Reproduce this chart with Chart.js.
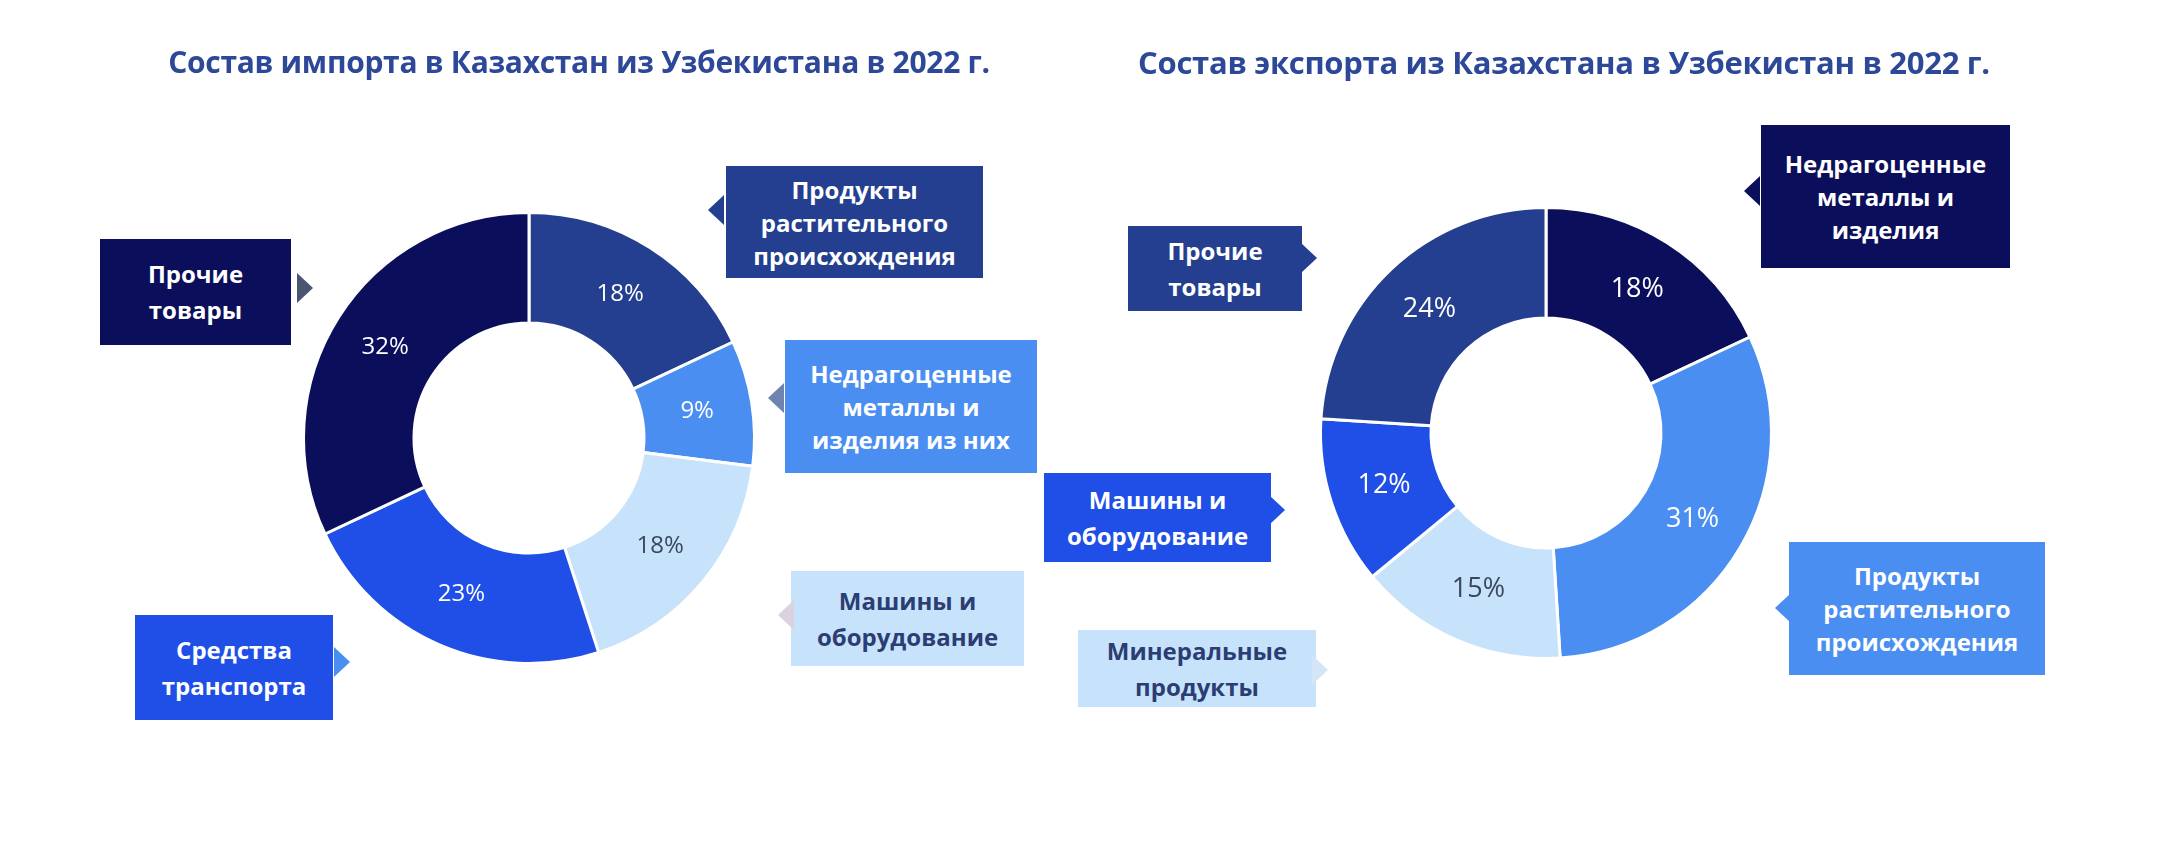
<!DOCTYPE html>
<html lang="ru">
<head>
<meta charset="utf-8">
<title>Казахстан — Узбекистан 2022</title>
<script src="https://cdn.jsdelivr.net/npm/chart.js@4.4.1/dist/chart.umd.min.js"></script>
<style>
    html, body { margin: 0; padding: 0; background: #fff; }
    #lienzo { position: relative; width: 2160px; height: 854px; overflow: hidden; font-family: "Open Sans", "Noto Sans", sans-serif; }
    canvas { position: absolute; top: 0; }
    .titulo { position: absolute; top: 41px; font-weight: 700; color: #2d4898; white-space: nowrap; transform: translateX(-50%); letter-spacing: -0.3px; }
    .caja { position: absolute; display: flex; align-items: center; justify-content: center; text-align: center; font-size: 24px; font-weight: 700; box-sizing: border-box; }
    .punta { position: absolute; width: 0; height: 0; }
</style>
</head>
<body>
<div id="lienzo">
    <canvas id="importChart" width="1080" height="854" style="left:0"></canvas>
    <canvas id="exportChart" width="1080" height="854" style="left:1080px"></canvas>
</div>
<script>
// Datos: importación a Kazajistán desde Uzbekistán (2022)
const categoriasImport = [
    ['Продукты', 'растительного', 'происхождения'],
    ['Недрагоценные', 'металлы и', 'изделия из них'],
    ['Машины и', 'оборудование'],
    ['Средства', 'транспорта'],
    ['Прочие', 'товары']
];
const valoresImport = [18, 9, 18, 23, 32];

// Datos: exportación de Kazajistán a Uzbekistán (2022)
const categoriasExport = [
    ['Недрагоценные', 'металлы и', 'изделия'],
    ['Продукты', 'растительного', 'происхождения'],
    ['Минеральные', 'продукты'],
    ['Машины и', 'оборудование'],
    ['Прочие', 'товары']
];
const valoresExport = [18, 31, 15, 12, 24];

const tituloImport = 'Состав импорта в Казахстан из Узбекистана в 2022 г.';
const tituloExport = 'Состав экспорта из Казахстана в Узбекистан в 2022 г.';

// Paleta
const AZUL_NOCHE = '#0b0f5b';
const AZUL_OSCURO = '#243f8f';
const AZUL_MEDIO = '#4a8ef1';
const AZUL_CLARO = '#c7e3fb';
const AZUL_VIVO = '#1f4fe6';
const TEXTO_CLARO = '#2b3d73';

const coloresImport = [AZUL_OSCURO, AZUL_MEDIO, AZUL_CLARO, AZUL_VIVO, AZUL_NOCHE];
const coloresExport = [AZUL_NOCHE, AZUL_MEDIO, AZUL_CLARO, AZUL_VIVO, AZUL_OSCURO];

// Posición de cada caja (mismo orden que las categorías)
const cajasImport = [
    { x: 726, y: 166, w: 257, h: 112, lado: 'izq', punta: [708, 210], colorPunta: AZUL_OSCURO },
    { x: 785, y: 340, w: 252, h: 133, lado: 'izq', punta: [768, 398], colorPunta: '#6f82b0' },
    { x: 791, y: 571, w: 233, h: 95, lado: 'izq', punta: [778, 615], colorPunta: '#dcd2df' },
    { x: 135, y: 615, w: 198, h: 105, lado: 'der', punta: [350, 662], colorPunta: AZUL_MEDIO },
    { x: 100, y: 239, w: 191, h: 106, lado: 'der', punta: [313, 288], colorPunta: '#4b5570' }
];
const cajasExport = [
    { x: 1761, y: 125, w: 249, h: 143, lado: 'izq', punta: [1744, 191], colorPunta: AZUL_NOCHE },
    { x: 1789, y: 542, w: 256, h: 133, lado: 'izq', punta: [1775, 608], colorPunta: AZUL_MEDIO },
    { x: 1078, y: 630, w: 238, h: 77, lado: 'der', punta: [1328, 670], colorPunta: '#d3e5f6' },
    { x: 1044, y: 473, w: 227, h: 89, lado: 'der', punta: [1285, 510], colorPunta: AZUL_VIVO },
    { x: 1128, y: 226, w: 174, h: 85, lado: 'der', punta: [1317, 258], colorPunta: AZUL_OSCURO }
];

function ponerTitulo(texto, centroX, tam) {
    const div = document.createElement('div');
    div.className = 'titulo';
    div.style.left = centroX + 'px';
    div.style.fontSize = tam + 'px';
    div.textContent = texto;
    document.getElementById('lienzo').appendChild(div);
}

function ponerCajas(categorias, colores, cajas) {
    const lienzo = document.getElementById('lienzo');
    categorias.forEach((lineas, i) => {
        const c = cajas[i];
        const caja = document.createElement('div');
        caja.className = 'caja';
        caja.style.left = c.x + 'px';
        caja.style.top = c.y + 'px';
        caja.style.width = c.w + 'px';
        caja.style.height = c.h + 'px';
        caja.style.background = colores[i];
        caja.style.color = colores[i] === AZUL_CLARO ? TEXTO_CLARO : '#fff';
        caja.style.lineHeight = (lineas.length > 2 ? 33 : 36) + 'px';
        caja.innerHTML = lineas.join('<br>');
        lienzo.appendChild(caja);

        // triangulito que apunta hacia la dona
        const punta = document.createElement('div');
        punta.className = 'punta';
        const alto = 30, ancho = 16;
        punta.style.top = (c.punta[1] - alto / 2) + 'px';
        punta.style.borderTop = (alto / 2) + 'px solid transparent';
        punta.style.borderBottom = (alto / 2) + 'px solid transparent';
        if (c.lado === 'izq') {
            punta.style.left = c.punta[0] + 'px';
            punta.style.borderRight = ancho + 'px solid ' + c.colorPunta;
        } else {
            punta.style.left = (c.punta[0] - ancho) + 'px';
            punta.style.borderLeft = ancho + 'px solid ' + c.colorPunta;
        }
        lienzo.appendChild(punta);
    });
}

// Plugin: porcentajes dentro de cada sector
const etiquetasPorcentaje = {
    id: 'etiquetasPorcentaje',
    afterDatasetsDraw(chart, args, opts) {
        const ctx = chart.ctx;
        const meta = chart.getDatasetMeta(0);
        const colores = chart.data.datasets[0].backgroundColor;
        ctx.save();
        ctx.font = opts.font;
        ctx.textAlign = 'center';
        ctx.textBaseline = 'middle';
        meta.data.forEach((arco, i) => {
            const p = arco.tooltipPosition();
            ctx.fillStyle = colores[i] === AZUL_CLARO ? '#3a4761' : '#ffffff';
            ctx.fillText(chart.data.datasets[0].data[i] + '%', p.x, p.y);
        });
        ctx.restore();
    }
};

function crearDona(id, categorias, valores, colores, padding, fuente) {
    const ctx = document.getElementById(id).getContext('2d');
    return new Chart(ctx, {
        type: 'doughnut',
        data: {
            labels: categorias,
            datasets: [{
                data: valores,
                backgroundColor: colores,
                borderColor: '#ffffff',
                borderWidth: 3
            }]
        },
        options: {
            responsive: false,
            animation: false,
            cutout: '51%',
            layout: { padding: padding },
            events: [],
            plugins: {
                legend: { display: false },
                tooltip: { enabled: false },
                etiquetasPorcentaje: { font: fuente }
            }
        },
        plugins: [etiquetasPorcentaje]
    });
}

document.addEventListener('DOMContentLoaded', function() {
    // dona izquierda: centro (529, 438), radio ~227
    crearDona('importChart', categoriasImport, valoresImport, coloresImport,
        { left: 302, right: 324, top: 211, bottom: 189 }, '400 24px "Open Sans"');
    // dona derecha: centro (1546, 433) -> 466 dentro del canvas
    crearDona('exportChart', categoriasExport, valoresExport, coloresExport,
        { left: 239, right: 387, top: 206, bottom: 194 }, '500 27px "Open Sans"');

    ponerTitulo(tituloImport, 579, 30);
    ponerTitulo(tituloExport, 1564, 31);
    ponerCajas(categoriasImport, coloresImport, cajasImport);
    ponerCajas(categoriasExport, coloresExport, cajasExport);
});
</script>
</body>
</html>
